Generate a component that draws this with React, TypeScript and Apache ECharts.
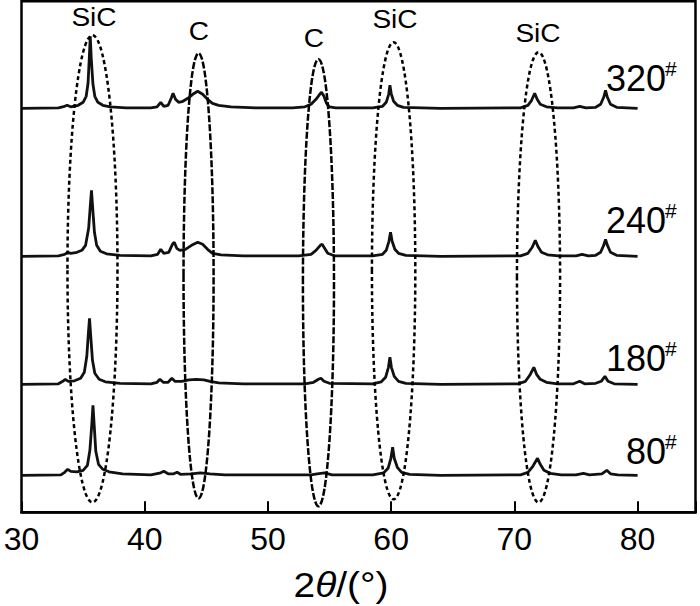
import React, { useEffect, useRef } from "react";
import * as echarts from "echarts";

const FONT = '"Liberation Sans", Arial, Helvetica, sans-serif';

// x axis ticks (2θ, degrees)
const xTickValues = [30, 40, 50, 60, 70, 80];

// sample names and vertical stacking offsets (arbitrary intensity units)
const sampleNames = ["320", "240", "180", "80"];
const sampleOffsets = [404, 256, 128, 37];

// XRD profiles: [2θ, relative intensity above the sample's baseline]
const trace320: number[][] = [
  [30, 0], [33.0, 0.5], [33.5, 2], [33.7, 3], [34.0, 1.5], [34.6, 3], [35.0, 6], [35.25, 12],
  [35.4, 25], [35.5, 50], [35.58, 72], [35.66, 50], [35.8, 24], [35.95, 12], [36.2, 6], [36.6, 3],
  [37.2, 1.5], [38.5, 0.5], [40.5, 0.5], [41.0, 1.5], [41.3, 6], [41.55, 2], [41.9, 3], [42.15, 10],
  [42.3, 15], [42.5, 9], [42.75, 6], [43.1, 7], [43.5, 10], [43.9, 14], [44.3, 17], [44.7, 14],
  [45.1, 9], [45.5, 5], [46.0, 3], [47.0, 1.5], [49, 0.5], [52, 0.5], [53.0, 1.5], [53.5, 4],
  [53.9, 9], [54.2, 14], [54.35, 16], [54.55, 12], [54.75, 5], [55.0, 1.5], [55.5, 0.5], [58.5, 0.5],
  [59.3, 2], [59.6, 6], [59.8, 14], [59.9, 23], [60.0, 15], [60.2, 7], [60.5, 3], [61.0, 1],
  [64, 0], [70.5, 0.5], [71.1, 3], [71.4, 8], [71.65, 15], [71.85, 9], [72.1, 4], [72.6, 1.5],
  [73.5, 0.5], [74.8, 0.5], [75.3, 2], [75.8, 0.5], [76.6, 1], [77.0, 4], [77.25, 11], [77.4, 18],
  [77.55, 11], [77.8, 4], [78.3, 1], [80, 0],
];
const trace240: number[][] = [
  [30, 0], [33.0, 0.5], [33.5, 2], [33.75, 4], [34.0, 3], [34.5, 4], [34.9, 6], [35.2, 11],
  [35.45, 28], [35.58, 50], [35.68, 66], [35.78, 48], [35.92, 24], [36.1, 11], [36.4, 5], [36.9, 2.5],
  [38, 1], [40.5, 0.5], [41.05, 2], [41.3, 7], [41.55, 3], [41.95, 4], [42.25, 12], [42.4, 14],
  [42.6, 8], [42.85, 6], [43.3, 7], [43.8, 11], [44.3, 14], [44.7, 12], [45.1, 7], [45.5, 3],
  [46.2, 1.5], [48, 0.5], [52.5, 0.5], [53.5, 2], [53.9, 6], [54.25, 11], [54.4, 12], [54.6, 8],
  [54.85, 3], [55.4, 0.5], [58.5, 0.5], [59.3, 2], [59.6, 6], [59.82, 15], [59.95, 24], [60.08, 15],
  [60.3, 7], [60.6, 3], [61.2, 1], [64, 0], [70.5, 0.5], [71.1, 3], [71.45, 9], [71.7, 16],
  [71.9, 10], [72.2, 4], [72.7, 1.5], [73.6, 0.5], [75.0, 0.5], [75.5, 2], [76.0, 0.5], [76.6, 1],
  [77.0, 4], [77.25, 11], [77.4, 17], [77.55, 11], [77.8, 4], [78.3, 1], [80, 0],
];
const trace180: number[][] = [
  [30, 0], [33.0, 0.5], [33.35, 3], [33.55, 5], [33.8, 3], [34.3, 3.5], [34.8, 6], [35.1, 12],
  [35.3, 28], [35.42, 50], [35.52, 66], [35.62, 48], [35.76, 24], [35.95, 11], [36.3, 5], [36.8, 2.5],
  [38, 1], [40.5, 0.5], [41.0, 2], [41.23, 5], [41.5, 2], [41.9, 2], [42.2, 6], [42.45, 3],
  [43.0, 3], [43.6, 4.5], [44.2, 5], [44.8, 4.5], [45.3, 3], [46.0, 1.5], [48, 0.5], [53, 0.5],
  [53.7, 2], [54.1, 5], [54.3, 6], [54.55, 3], [55.0, 1], [58.5, 0.5], [59.2, 2.5], [59.55, 7],
  [59.78, 17], [59.9, 27], [60.02, 17], [60.25, 8], [60.6, 3], [61.2, 1], [64, 0], [70.3, 0.5],
  [70.9, 3], [71.25, 9], [71.58, 17], [71.8, 10], [72.1, 5], [72.6, 2], [73.5, 0.5], [74.8, 0.5],
  [75.3, 3], [75.7, 0.5], [76.6, 1], [77.05, 3], [77.35, 8], [77.6, 3], [78.1, 0.5], [80, 0],
];
const trace80: number[][] = [
  [30, 0], [33.2, 0.5], [33.5, 3], [33.75, 6], [34.0, 4], [34.5, 3.5], [35.0, 5], [35.35, 10],
  [35.55, 25], [35.7, 50], [35.8, 70], [35.9, 50], [36.03, 24], [36.25, 11], [36.6, 6], [37.1, 3.5],
  [38.2, 1.5], [40.5, 0.5], [41.3, 2.5], [41.55, 4], [41.9, 1.5], [42.35, 1.5], [42.63, 3], [42.9, 1],
  [43.8, 1.5], [44.5, 2.5], [45.3, 1.5], [46.5, 0.5], [53.5, 0.5], [54.0, 1.5], [54.6, 2.5], [55.2, 0.5],
  [58.5, 0.5], [59.4, 2.5], [59.75, 7], [59.98, 17], [60.12, 28], [60.25, 17], [60.5, 8], [60.85, 3],
  [61.5, 1], [64, 0], [70.5, 0.5], [71.1, 3], [71.5, 9], [71.88, 17], [72.1, 11], [72.4, 5],
  [72.9, 2], [73.8, 0.5], [75.0, 0.5], [75.6, 2], [76.1, 0.5], [77.1, 1.5], [77.5, 5], [77.8, 1.5],
  [78.4, 0.5], [80, 0],
];
const traces = [trace320, trace240, trace180, trace80];

// phase-marking ellipses: [centre 2θ, top, bottom, half-width in 2θ, kind 0=SiC 1=C]
const ellipseData: number[][] = [
  [35.76, 477, 10, 2.03, 0],
  [44.37, 459, 14, 1.22, 1],
  [54.1, 453, 6, 1.26, 1],
  [60.2, 470, 13, 1.76, 0],
  [71.96, 460, 10, 1.75, 0],
];

// phase labels and their pixel anchors
const phaseLabels = ["SiC", "C", "C", "SiC", "SiC"];
const phaseLabelPos = [[94, 17], [199, 31], [314, 38], [395, 19], [538, 33]];
const sampleLabelY = [78, 220, 358, 451];

export default function App() {
  const ref = useRef<HTMLDivElement>(null);
  useEffect(() => {
    if (!ref.current) return;
    const chart = echarts.init(ref.current, undefined, { renderer: "svg" });
    const lineSeries = traces.map((t, i) => ({
      type: "line",
      name: sampleNames[i],
      data: t.map(([x, y]) => [x, y + sampleOffsets[i]]),
      showSymbol: false,
      symbol: "none",
      lineStyle: { color: "#111", width: 2.8 },
      z: 2,
    }));
    const graphics: any[] = [];
    phaseLabels.forEach((t, i) => {
      graphics.push({
        type: "text",
        x: phaseLabelPos[i][0],
        y: phaseLabelPos[i][1],
        scaleX: 1.08,
        style: { text: t, fontSize: 26, fontFamily: FONT, fill: "#000", align: "center", verticalAlign: "middle" },
      });
    });
    sampleNames.forEach((n, i) => {
      graphics.push({
        type: "text",
        x: 666,
        y: sampleLabelY[i],
        style: { text: n, fontSize: 36, fontFamily: FONT, fill: "#000", align: "right", verticalAlign: "middle" },
      });
      graphics.push({
        type: "text",
        x: 665,
        y: sampleLabelY[i] - 10,
        style: { text: "#", fontSize: 21, fontFamily: FONT, fill: "#000", align: "left", verticalAlign: "middle" },
      });
    });
    graphics.push({
      type: "text",
      x: 341,
      y: 585,
      scaleX: 1.08,
      style: {
        text: "{a|2}{b|θ}{a|/(°)}",
        align: "center",
        verticalAlign: "middle",
        fill: "#000",
        rich: {
          a: { fontSize: 36, fontFamily: FONT, fill: "#000" },
          b: { fontSize: 36, fontFamily: FONT, fontStyle: "italic", fill: "#000" },
        },
      },
    });

    chart.setOption({
      animation: false,
      backgroundColor: "#fff",
      grid: {
        left: 21.5,
        top: 1.3,
        right: 4.5,
        bottom: 93.7,
        show: true,
        borderColor: "#000",
        borderWidth: 2.5,
        backgroundColor: "transparent",
      },
      xAxis: {
        type: "value",
        min: 30,
        max: 84.7,
        interval: 10,
        splitLine: { show: false },
        axisLine: { show: true, lineStyle: { color: "#000", width: 2.5 } },
        axisTick: { show: true, inside: true, length: 11, lineStyle: { color: "#000", width: 2 } },
        axisLabel: {
          margin: 11,
          fontSize: 32,
          lineHeight: 32,
          fontFamily: FONT,
          color: "#000",
          formatter: (v: number) => (xTickValues.indexOf(Math.round(v * 100) / 100) >= 0 ? String(v) : ""),
        },
      },
      yAxis: {
        type: "value",
        min: 0,
        max: 511,
        show: false,
      },
      series: [
        ...lineSeries,
        {
          type: "custom",
          data: ellipseData,
          encode: { x: 0, y: [1, 2] },
          clip: false,
          z: 3,
          silent: true,
          renderItem: (_p: any, api: any) => {
            const cx = api.value(0);
            const top = api.value(1);
            const bot = api.value(2);
            const hw = api.value(3);
            const kind = api.value(4);
            const pt = api.coord([cx, top]);
            const pb = api.coord([cx, bot]);
            const pr = api.coord([cx + hw, bot]);
            return {
              type: "ellipse",
              shape: { cx: pt[0], cy: (pt[1] + pb[1]) / 2, rx: pr[0] - pt[0], ry: (pb[1] - pt[1]) / 2 },
              style: {
                fill: "none",
                stroke: "#000",
                lineWidth: 2.5,
                lineDash: kind === 0 ? [4, 3] : [7, 2],
              },
            };
          },
        },
      ],
      graphic: graphics,
    });
    return () => chart.dispose();
  }, []);
  return <div ref={ref} style={{ width: 700, height: 606, position: "absolute", left: 0, top: 0 }} />;
}
